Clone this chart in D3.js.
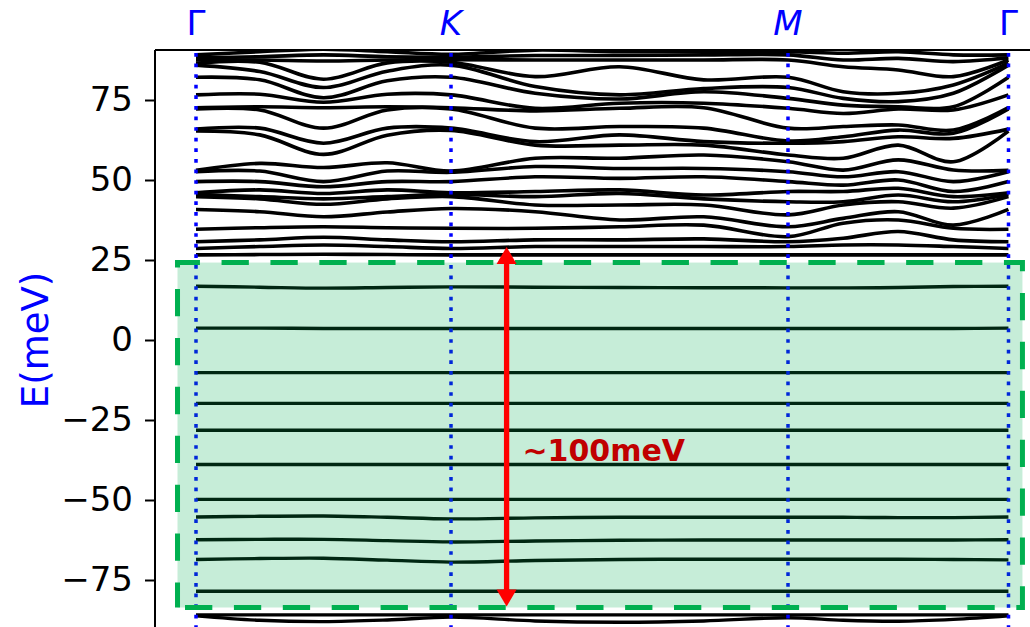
<!DOCTYPE html>
<html><head><meta charset="utf-8">
<script src="https://cdn.jsdelivr.net/npm/d3@7"></script>
<style>body{margin:0;background:#fff}svg{display:block}</style>
</head><body>
<svg id="c" width="1030" height="627"></svg>
<script>
// ---- data ----
const kLabels = ["Γ", "K", "M", "Γ"];
const kLabelItalic = [false, true, true, false];
const kTickPos = [0, 1, 2.3216, 3.1863];
const kPath = [0, 0.25, 0.5, 0.75, 1, 1.330, 1.661, 1.991, 2.322, 2.538, 2.754, 2.970, 3.186];
const yTicks = [-75, -50, -25, 0, 25, 50, 75];

// upper (dispersive) band energies (meV) at each k-sample, listed top to bottom
const upperAtG1 = [89.1, 88.2, 87.5, 86.5, 85.9, 82.1, 76.6, 72.6, 72.2, 65.9, 65.3, 53.0, 52.6, 49.5, 46.0, 45.5, 44.8, 40.8, 34.6, 30.7, 28.6, 26.6];
const upperGK1 = [90.1, 88.5, 87.5, 86.8, 83.9, 81.3, 76.8, 72.9, 71.9, 66.2, 64.1, 55.2, 52.8, 49.5, 46.9, 44.8, 44.1, 40.1, 35.1, 31.3, 29.2, 26.7];
const upperGK2 = [90.9, 89.1, 87.2, 81.5, 78.9, 75.7, 74.3, 72.6, 66.2, 61.5, 58.0, 53.9, 49.5, 47.9, 45.8, 44.1, 42.4, 38.5, 35.4, 32.1, 29.7, 26.8];
const upperGK3 = [90.1, 88.5, 87.5, 86.6, 84.0, 81.0, 76.8, 72.9, 71.9, 66.2, 64.0, 55.4, 52.8, 49.5, 46.9, 44.8, 44.1, 40.0, 35.1, 31.3, 29.2, 26.7];
const upperAtK  = [89.3, 88.4, 87.6, 86.8, 85.9, 82.1, 76.6, 72.6, 72.2, 66.2, 65.5, 52.8, 52.4, 49.5, 46.0, 45.5, 44.8, 41.1, 34.9, 30.7, 28.6, 26.6];
const upperKM1 = [90.6, 88.9, 87.5, 82.3, 79.2, 77.1, 72.4, 71.6, 66.2, 62.0, 60.9, 56.8, 54.2, 51.0, 46.4, 44.8, 42.2, 40.1, 34.9, 31.3, 29.2, 26.6];
const upperKM2 = [90.1, 88.9, 87.5, 85.4, 76.6, 75.3, 74.0, 72.4, 66.7, 64.1, 60.9, 56.8, 53.6, 50.5, 46.9, 45.8, 42.2, 37.5, 35.4, 31.3, 29.2, 26.6];
const upperKM3 = [90.1, 89.1, 87.5, 81.3, 78.6, 77.6, 74.0, 72.6, 66.2, 62.0, 60.9, 57.8, 53.6, 51.0, 45.3, 44.1, 42.2, 38.5, 35.9, 31.6, 29.2, 26.6];
const upperAtM  = [90.1, 89.1, 87.5, 82.1, 78.9, 75.5, 72.4, 66.2, 62.2, 61.5, 57.8, 55.7, 52.6, 49.5, 46.4, 43.2, 39.1, 35.4, 32.3, 30.7, 29.2, 26.6];
const upperMG1 = [89.6, 87.5, 85.4, 77.6, 75.5, 73.4, 70.8, 66.7, 63.5, 62.0, 56.8, 53.1, 51.0, 48.4, 46.4, 43.2, 42.2, 38.0, 36.5, 31.8, 29.7, 26.6];
const upperMG2 = [90.1, 88.0, 84.4, 77.1, 74.5, 72.9, 72.2, 67.2, 65.6, 63.5, 60.9, 56.3, 52.6, 50.0, 47.4, 45.3, 43.2, 40.1, 37.5, 33.9, 29.7, 26.6];
const upperMG3 = [89.1, 87.0, 82.3, 79.7, 77.1, 72.9, 71.9, 65.6, 64.6, 63.0, 55.7, 53.1, 49.5, 46.4, 44.8, 43.2, 41.2, 35.9, 34.9, 31.3, 29.2, 26.6];
const upperAtG2 = [89.1, 88.2, 87.5, 86.5, 85.9, 82.1, 76.6, 72.6, 72.2, 65.9, 65.3, 53.0, 52.6, 49.5, 46.0, 45.5, 44.8, 40.8, 34.6, 30.7, 28.6, 26.6];
const upperCols = [upperAtG1, upperGK1, upperGK2, upperGK3, upperAtK, upperKM1, upperKM2, upperKM3, upperAtM, upperMG1, upperMG2, upperMG3, upperAtG2];

// flat bands (meV) along the same k-samples
const flat1  = [16.8, 16.5, 16.2, 16.4, 16.6, 16.5, 16.4, 16.35, 16.3, 16.3, 16.4, 16.7, 16.8];
const flat2  = [3.7, 3.7, 3.6, 3.6, 3.6, 3.6, 3.6, 3.6, 3.6, 3.6, 3.6, 3.6, 3.7];
const flat3  = [-10.2, -10.2, -10.2, -10.2, -10.2, -10.2, -10.2, -10.2, -10.2, -10.2, -10.2, -10.2, -10.2];
const flat4  = [-19.8, -19.8, -19.8, -19.8, -19.8, -19.8, -19.8, -19.8, -19.8, -19.8, -19.8, -19.8, -19.8];
const flat5  = [-28.2, -28.2, -28.2, -28.2, -28.2, -28.2, -28.2, -28.2, -28.2, -28.2, -28.2, -28.2, -28.2];
const flat6  = [-38.9, -38.9, -38.9, -38.9, -38.9, -38.9, -38.9, -38.9, -38.9, -38.9, -38.9, -38.9, -38.9];
const flat7  = [-49.8, -49.8, -49.8, -49.8, -49.8, -49.8, -49.8, -49.8, -49.8, -49.8, -49.8, -49.8, -49.8];
const flat8  = [-55.3, -55.1, -55.0, -55.4, -55.9, -55.6, -55.4, -55.4, -55.4, -55.4, -55.5, -55.5, -55.3];
const flat9  = [-62.4, -62.3, -62.3, -62.7, -63.1, -62.8, -62.6, -62.5, -62.5, -62.5, -62.5, -62.5, -62.4];
const flat10 = [-68.6, -68.3, -68.2, -68.8, -69.4, -68.9, -68.6, -68.5, -68.5, -68.5, -68.5, -68.6, -68.7];
const flat11 = [-78.5, -78.5, -78.5, -78.5, -78.5, -78.5, -78.5, -78.5, -78.5, -78.5, -78.5, -78.5, -78.5];
const flat12 = [-85.9, -85.9, -85.9, -85.9, -85.9, -85.9, -85.9, -85.9, -85.9, -85.9, -85.9, -85.9, -85.9];
const flat13 = [-86.2, -87.6, -88.0, -87.5, -86.6, -87.8, -88.2, -87.8, -86.8, -87.6, -87.9, -87.3, -86.2];
const flatBands = [flat1, flat2, flat3, flat4, flat5, flat6, flat7, flat8, flat9, flat10, flat11, flat12, flat13];

// highlighted gap region and annotation (data units: k, meV)
const boxK = [-0.0725, 3.241];
const boxE = [-83.6, 24.2];
const arrowK = 1.218;
const arrowE = [-83.3, 29.1];
const arrowLabel = "∼100meV";
const arrowLabelAt = [1.28, -34.4];
const yLabel = "E(meV)";

// ---- drawing ----
const svg = d3.select("#c");
const font = "DejaVu Sans, sans-serif";
const x = d3.scaleLinear().domain([0, 3.1863]).range([196, 1008.5]);
const y = d3.scaleLinear().domain([-90, 90]).range([628, 52]);
const plotL = 155, plotT = 50, plotR = 1030, plotB = 627;

svg.append("defs").append("clipPath").attr("id", "clip")
  .append("rect").attr("x", plotL).attr("y", plotT).attr("width", plotR - plotL).attr("height", plotB - plotT);
const g = svg.append("g").attr("clip-path", "url(#clip)");

const line = d3.line().x(d => x(d[0])).y(d => y(d[1])).curve(d3.curveCatmullRom.alpha(0.5));

const nb = upperCols[0].length;
const sortedCols = upperCols.map(c => c.slice().sort((a, b) => b - a));
for (let b = 0; b < nb; b++) {
  const pts = kPath.map((k, i) => [k, sortedCols[i][b]]);
  g.append("path").attr("d", line(pts)).attr("fill", "none").attr("stroke", "#000").attr("stroke-width", 3.6);
}
flatBands.forEach(fb => {
  const pts = kPath.map((k, i) => [k, fb[i]]);
  g.append("path").attr("d", line(pts)).attr("fill", "none").attr("stroke", "#000").attr("stroke-width", 3.4);
});

// high-symmetry vertical dotted lines
kTickPos.forEach(k => {
  g.append("line").attr("x1", x(k)).attr("x2", x(k)).attr("y1", y(89.7)).attr("y2", y(-100))
    .attr("stroke", "#0000ff").attr("stroke-width", 3.5).attr("stroke-dasharray", "3.7,6.9");
});

// gap box
const bx0 = x(boxK[0]), bx1 = x(boxK[1]), by0 = y(boxE[1]), by1 = y(boxE[0]);
g.append("rect").attr("x", bx0).attr("y", by0).attr("width", bx1 - bx0).attr("height", by1 - by0)
  .attr("fill", "#00b050").attr("fill-opacity", 0.224);
g.append("path").attr("d", `M${bx0},${by1}L${bx1},${by1}L${bx1},${by0}L${bx0},${by0}Z`)
  .attr("fill", "none").attr("stroke", "#00b050").attr("stroke-width", 5)
  .attr("stroke-dasharray", "27.3,21.6").attr("stroke-dashoffset", 41.4);

// arrow
const ax = x(arrowK), ayTop = y(arrowE[1]), ayBot = y(arrowE[0]);
const headL = 17, headW = 10;
svg.append("line").attr("x1", ax).attr("x2", ax).attr("y1", ayTop + headL - 1).attr("y2", ayBot - headL + 1)
  .attr("stroke", "#ff0000").attr("stroke-width", 5.3);
svg.append("path").attr("d", `M${ax},${ayTop}L${ax - headW},${ayTop + headL}L${ax + headW},${ayTop + headL}Z`).attr("fill", "#ff0000");
svg.append("path").attr("d", `M${ax},${ayBot}L${ax - headW},${ayBot - headL}L${ax + headW},${ayBot - headL}Z`).attr("fill", "#ff0000");
svg.append("text").attr("x", x(arrowLabelAt[0])).attr("y", y(arrowLabelAt[1])).attr("dy", "0.36em")
  .attr("font-family", font).attr("font-weight", "bold").attr("font-size", 30).attr("fill", "#c00000")
  .text(arrowLabel);

// spines
svg.append("line").attr("x1", plotL).attr("x2", plotR).attr("y1", plotT).attr("y2", plotT).attr("stroke", "#000").attr("stroke-width", 2);
svg.append("line").attr("x1", plotL).attr("x2", plotL).attr("y1", plotT).attr("y2", plotB + 5).attr("stroke", "#000").attr("stroke-width", 2);

// y axis
const yAxis = d3.axisLeft(y).tickValues(yTicks).tickSize(10).tickPadding(12).tickFormat(d3.format("d"));
const ga = svg.append("g").attr("transform", `translate(${plotL},0)`).call(yAxis);
ga.select(".domain").remove();
ga.selectAll(".tick line").attr("stroke", "#000").attr("stroke-width", 2);
ga.selectAll(".tick text").attr("font-family", font).attr("font-size", 34).attr("fill", "#000");

// y label
svg.append("text").attr("transform", `translate(35,${y(0)}) rotate(-90)`).attr("text-anchor", "middle").attr("dy", "0.35em")
  .attr("font-family", font).attr("font-size", 37).attr("fill", "#0000ff").text(yLabel);

// top k labels
kTickPos.forEach((k, i) => {
  svg.append("text").attr("x", x(k)).attr("y", 35).attr("text-anchor", "middle")
    .attr("font-family", font).attr("font-size", 34).attr("fill", "#0000ff")
    .attr("font-style", kLabelItalic[i] ? "italic" : "normal").text(kLabels[i]);
});
</script>
</body></html>
